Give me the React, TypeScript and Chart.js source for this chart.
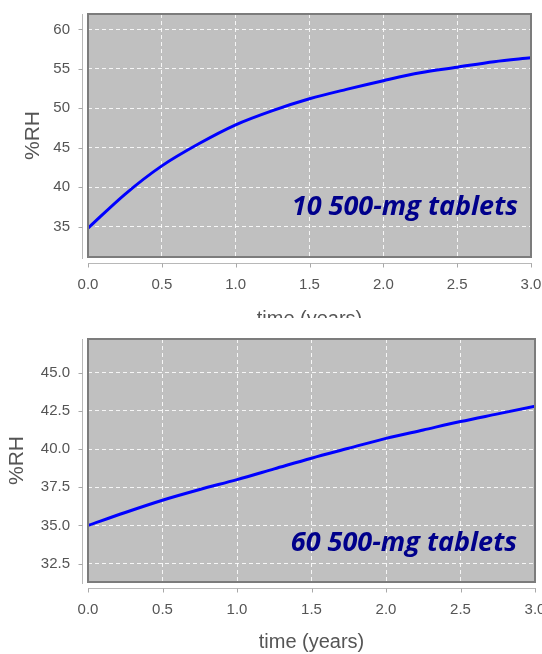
import React, { useEffect, useRef } from "react";
import { Chart, registerables } from "chart.js";

Chart.register(...registerables);

// ---- data ----
const TIME_YEARS = [0, 0.25, 0.5, 0.75, 1.0, 1.25, 1.5, 1.75, 2.0, 2.25, 2.5, 2.75, 3.0];
const RH_10_TABLETS = [34.8, 39.1, 42.7, 45.5, 47.9, 49.7, 51.2, 52.4, 53.5, 54.5, 55.2, 55.9, 56.4];
const RH_60_TABLETS = [35.0, 35.85, 36.65, 37.35, 38.0, 38.7, 39.4, 40.05, 40.7, 41.25, 41.8, 42.3, 42.8];
const X_TICK_STEP = 0.5;
const TOP_Y_RANGE = [31.15, 61.95];
const TOP_Y_STEP = 5;
const BOTTOM_Y_RANGE = [31.3, 47.2];
const BOTTOM_Y_STEP = 2.5;
const LABEL_10 = "10 500-mg tablets";
const LABEL_60 = "60 500-mg tablets";
const X_TITLE = "time (years)";
const Y_TITLE = "%RH";

type PanelProps = {
  values: number[];
  yRange: number[];
  yStep: number;
  yDecimals: number;
  label: string;
  top: number;
  boxHeight: number;
  canvasHeight: number;
  padTop: number;
  padRight: number;
  xScaleHeight: number;
  yTitlePad: number;
  xTitlePad: number;
  labelRight: number;
  labelBottom: number;
};

function Panel(p: PanelProps) {
  const ref = useRef<HTMLCanvasElement | null>(null);
  useEffect(() => {
    if (!ref.current) return;
    const pts = TIME_YEARS.map((t, i) => ({ x: t, y: p.values[i] }));
    const deco = {
      id: "deco",
      beforeDraw(chart: any) {
        const { ctx, chartArea: a } = chart;
        ctx.save();
        ctx.fillStyle = "#c0c0c0";
        ctx.fillRect(a.left, a.top, a.right - a.left, a.bottom - a.top);
        ctx.restore();
      },
      afterDraw(chart: any) {
        const { ctx, chartArea: a } = chart;
        const xs = chart.scales.x;
        const ys = chart.scales.y;
        ctx.save();
        // plot border
        ctx.strokeStyle = "#7c7c7c";
        ctx.lineWidth = 2;
        ctx.strokeRect(a.left, a.top, a.right - a.left, a.bottom - a.top);
        // offset axis lines
        ctx.strokeStyle = "#b8b8b8";
        ctx.lineWidth = 1;
        const ax = Math.round(a.left - 6) + 0.5;
        const ay = Math.round(a.bottom + 6) + 0.5;
        ctx.beginPath();
        ctx.moveTo(ax, a.top);
        ctx.lineTo(ax, a.bottom + 2);
        ctx.moveTo(a.left, ay);
        ctx.lineTo(a.right + 1, ay);
        ctx.stroke();
        ctx.strokeStyle = "#a8a8a8";
        ctx.beginPath();
        ys.ticks.forEach((t: any) => {
          const py = Math.round(ys.getPixelForValue(t.value)) + 0.5;
          ctx.moveTo(ax - 4, py);
          ctx.lineTo(ax, py);
        });
        xs.ticks.forEach((t: any) => {
          const px = Math.round(xs.getPixelForValue(t.value)) + 0.5;
          ctx.moveTo(px, ay);
          ctx.lineTo(px, ay + 4);
        });
        ctx.stroke();
        // annotation
        ctx.fillStyle = "#00008b";
        ctx.font = "italic bold 27px 'Open Sans'";
        ctx.textAlign = "right";
        ctx.textBaseline = "alphabetic";
        ctx.fillText(p.label, a.right - p.labelRight, a.bottom - p.labelBottom);
        ctx.restore();
      },
    };
    const chart = new Chart(ref.current, {
      type: "line",
      data: {
        datasets: [
          {
            data: pts,
            borderColor: "#0000ff",
            borderWidth: 3,
            pointRadius: 0,
            cubicInterpolationMode: "monotone",
            fill: false,
          },
        ],
      },
      options: {
        animation: false,
        responsive: false,
        devicePixelRatio: 1,
        layout: { padding: { top: p.padTop, right: p.padRight, left: 0, bottom: 0 } },
        plugins: { legend: { display: false }, tooltip: { enabled: false } },
        scales: {
          x: {
            type: "linear",
            min: 0,
            max: 3,
            afterFit(s: any) {
              s.height = p.xScaleHeight;
              s.paddingLeft = 0;
              s.paddingRight = 0;
            },
            ticks: {
              stepSize: X_TICK_STEP,
              padding: 19,
              color: "#555",
              font: { family: "'Liberation Sans'", size: 15 },
              callback: (v: any) => Number(v).toFixed(1),
              autoSkip: false,
              maxRotation: 0,
            },
            grid: { color: "rgba(255,255,255,0.85)", lineWidth: 1, drawTicks: false },
            border: { display: false, dash: [4, 3] },
            title: {
              display: true,
              text: X_TITLE,
              color: "#555",
              font: { family: "'Liberation Sans'", size: 20 },
              padding: { top: 0, bottom: p.xTitlePad },
            },
          },
          y: {
            type: "linear",
            min: p.yRange[0],
            max: p.yRange[1],
            afterFit(s: any) {
              s.width = 88;
              s.paddingTop = 0;
              s.paddingBottom = 0;
            },
            ticks: {
              stepSize: p.yStep,
              includeBounds: false,
              padding: 18,
              color: "#555",
              font: { family: "'Liberation Sans'", size: 15 },
              callback: (v: any) => Number(v).toFixed(p.yDecimals),
            },
            grid: { color: "rgba(255,255,255,0.85)", lineWidth: 1, drawTicks: false },
            border: { display: false, dash: [4, 3] },
            title: {
              display: true,
              text: Y_TITLE,
              color: "#555",
              font: { family: "'Liberation Sans'", size: 21 },
              padding: { top: p.yTitlePad, bottom: 0 },
            },
          },
        },
      },
      plugins: [deco],
    } as any);
    return () => chart.destroy();
  }, []);
  return (
    <div
      style={{
        position: "absolute",
        left: 0,
        top: p.top,
        width: 542,
        height: p.boxHeight,
        overflow: "hidden",
        background: "#fff",
      }}
    >
      <canvas ref={ref} width={542} height={p.canvasHeight} style={{ display: "block" }} />
    </div>
  );
}

export default function App() {
  return (
    <div style={{ position: "absolute", left: 0, top: 0, width: 542, height: 654, background: "#fff" }}>
      <Panel
        values={RH_10_TABLETS}
        yRange={TOP_Y_RANGE}
        yStep={TOP_Y_STEP}
        yDecimals={0}
        label={LABEL_10}
        top={0}
        boxHeight={318}
        canvasHeight={340}
        padTop={14}
        padRight={11}
        xScaleHeight={83}
        yTitlePad={21}
        xTitlePad={9}
        labelRight={13}
        labelBottom={42}
      />
      <Panel
        values={RH_60_TABLETS}
        yRange={BOTTOM_Y_RANGE}
        yStep={BOTTOM_Y_STEP}
        yDecimals={1}
        label={LABEL_60}
        top={320}
        boxHeight={334}
        canvasHeight={334}
        padTop={19}
        padRight={7}
        xScaleHeight={72}
        yTitlePad={5}
        xTitlePad={0}
        labelRight={18}
        labelBottom={31}
      />
    </div>
  );
}
